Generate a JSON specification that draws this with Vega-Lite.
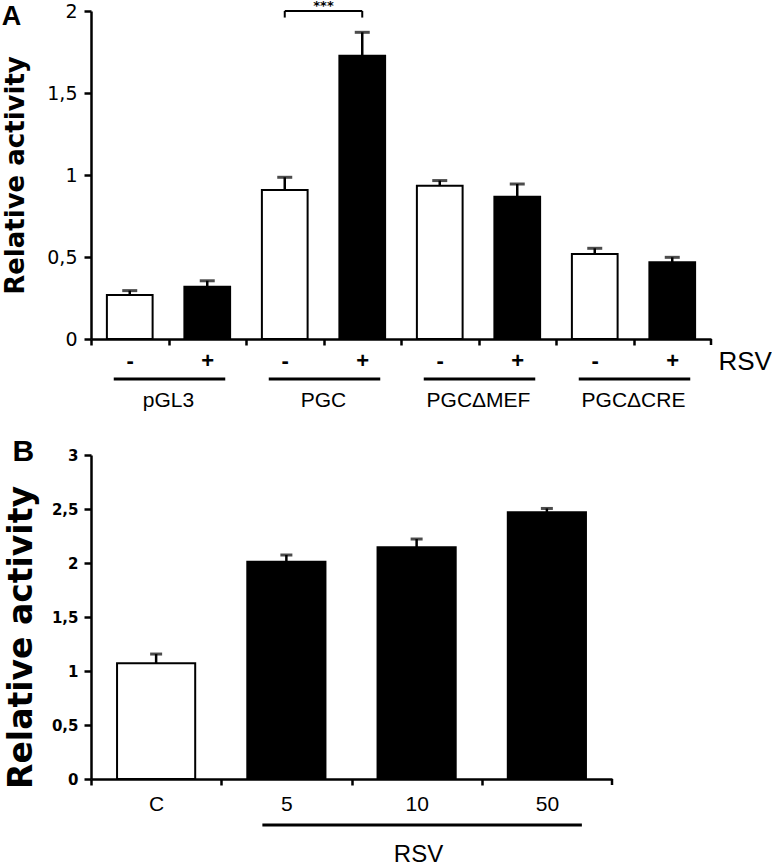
{
  "$schema": "https://vega.github.io/schema/vega-lite/v6.json",
  "background": "white",
  "padding": {"left": 1, "top": 0, "right": 0, "bottom": 12},
  "spacing": 116,
  "bounds": "flush",
  "config": {
    "view": {"stroke": null},
    "axis": {"domainColor": "black", "tickColor": "black", "labelColor": "black", "titleColor": "black", "grid": false, "domainWidth": 2.5, "tickWidth": 2.5, "labelOverlap": false, "labelFlush": false}
  },
  "datasets": {
    "a": [
      {"bar": "pGL3 -", "group": "pGL3", "rsv": "-", "value": 0.268, "upper": 0.295},
      {"bar": "pGL3 +", "group": "pGL3", "rsv": "+", "value": 0.319, "upper": 0.355},
      {"bar": "PGC -", "group": "PGC", "rsv": "-", "value": 0.909, "upper": 0.986},
      {"bar": "PGC +", "group": "PGC", "rsv": "+", "value": 1.727, "upper": 1.87},
      {"bar": "PGCΔMEF -", "group": "PGCΔMEF", "rsv": "-", "value": 0.935, "upper": 0.966},
      {"bar": "PGCΔMEF +", "group": "PGCΔMEF", "rsv": "+", "value": 0.868, "upper": 0.945},
      {"bar": "PGCΔCRE -", "group": "PGCΔCRE", "rsv": "-", "value": 0.518, "upper": 0.553},
      {"bar": "PGCΔCRE +", "group": "PGCΔCRE", "rsv": "+", "value": 0.468, "upper": 0.498}
    ],
    "a_groups": [
      {"group": "pGL3", "first": "pGL3 -", "last": "pGL3 +"},
      {"group": "PGC", "first": "PGC -", "last": "PGC +"},
      {"group": "PGCΔMEF", "first": "PGCΔMEF -", "last": "PGCΔMEF +"},
      {"group": "PGCΔCRE", "first": "PGCΔCRE -", "last": "PGCΔCRE +"}
    ],
    "a_end": [
      {"bar": "PGCΔCRE +"}
    ],
    "a_sig": [
      {"from": "PGC -", "to": "PGC +", "level": 2.0, "low": 1.96, "label": "***"}
    ],
    "b": [
      {"cond": "C", "treated": "no", "value": 1.071, "upper": 1.157},
      {"cond": "5", "treated": "yes", "value": 2.012, "upper": 2.074},
      {"cond": "10", "treated": "yes", "value": 2.145, "upper": 2.222},
      {"cond": "50", "treated": "yes", "value": 2.469, "upper": 2.505}
    ],
    "b_end": [
      {"cond": "50"}
    ],
    "b_groups": [
      {"first": "5", "last": "50"}
    ]
  },
  "vconcat": [
    {
      "width": 620,
      "height": 328,
      "title": {"text": "A", "anchor": "start", "frame": "bounds", "font": "Liberation Sans", "fontSize": 27, "fontWeight": "bold", "color": "black", "offset": -31, "dx": -1},
      "layer": [
        {
          "data": {"name": "a"},
          "mark": {"type": "bar", "width": {"band": 0.59}, "stroke": "black", "strokeWidth": 2},
          "encoding": {
            "x": {
              "field": "bar", "type": "nominal", "sort": null,
              "scale": {"domain": ["pGL3 -", "pGL3 +", "PGC -", "PGC +", "PGCΔMEF -", "PGCΔMEF +", "PGCΔCRE -", "PGCΔCRE +"], "paddingInner": 0, "paddingOuter": 0},
              "axis": {
                "title": "RSV", "labelAngle": 0,
                "labelExpr": "indexof(datum.value, '+') >= 0 ? '+' : '-'",
                "labelFont": "Liberation Sans", "labelFontSize": 22, "labelFontWeight": "bold", "labelBaseline": "middle", "labelPadding": 15,
                "tickSize": 6, "tickOffset": -38.75, "labelOffset": 38.75,
                "titleX": 627, "titleY": 22, "titleAlign": "left", "titleBaseline": "middle",
                "titleFont": "Liberation Sans", "titleFontSize": 26, "titleFontWeight": "normal"
              }
            },
            "y": {
              "field": "value", "type": "quantitative", "scale": {"domain": [0, 2]},
              "axis": {
                "values": [0, 0.5, 1, 1.5, 2],
                "labelExpr": "replace(format(datum.value, '~g'), '.', ',')",
                "title": "Relative activity", "titleFont": "DejaVu Sans", "titleFontSize": 26, "titleFontWeight": "bold", "titlePadding": 18,
                "labelFont": "DejaVu Sans", "labelFontSize": 19, "labelFontWeight": "normal", "tickSize": 7, "labelPadding": 7
              }
            },
            "fill": {"field": "rsv", "type": "nominal", "scale": {"domain": ["-", "+"], "range": ["white", "black"]}, "legend": null}
          }
        },
        {
          "data": {"name": "a"},
          "mark": {"type": "rule", "strokeWidth": 2.5, "color": "black"},
          "encoding": {
            "x": {"field": "bar", "type": "nominal"},
            "y": {"field": "value", "type": "quantitative"},
            "y2": {"field": "upper"}
          }
        },
        {
          "data": {"name": "a"},
          "mark": {"type": "tick", "size": 15, "thickness": 3, "color": "black", "orient": "horizontal"},
          "encoding": {
            "x": {"field": "bar", "type": "nominal"},
            "y": {"field": "upper", "type": "quantitative"}
          }
        },
        {
          "data": {"name": "a_end"},
          "mark": {"type": "rule", "strokeWidth": 2.5, "color": "black", "xOffset": 38.75, "y2Offset": 6},
          "encoding": {
            "x": {"field": "bar", "type": "nominal"},
            "y": {"datum": 0, "type": "quantitative"},
            "y2": {"datum": 0}
          }
        },
        {
          "data": {"name": "a_groups"},
          "mark": {"type": "rule", "strokeWidth": 3, "color": "black", "yOffset": 40, "xOffset": -16, "x2Offset": 18},
          "encoding": {
            "x": {"field": "first", "type": "nominal"},
            "x2": {"field": "last"},
            "y": {"datum": 0, "type": "quantitative"}
          }
        },
        {
          "data": {"name": "a_groups"},
          "mark": {"type": "text", "font": "Liberation Sans", "fontSize": 21, "color": "black", "baseline": "middle", "align": "center", "dx": 38.75, "yOffset": 62},
          "encoding": {
            "x": {"field": "first", "type": "nominal"},
            "y": {"datum": 0, "type": "quantitative"},
            "text": {"field": "group"}
          }
        },
        {
          "data": {"name": "a_sig"},
          "mark": {"type": "rule", "strokeWidth": 2, "color": "black"},
          "encoding": {
            "x": {"field": "from", "type": "nominal"},
            "x2": {"field": "to"},
            "y": {"field": "level", "type": "quantitative"}
          }
        },
        {
          "data": {"name": "a_sig"},
          "mark": {"type": "rule", "strokeWidth": 2, "color": "black"},
          "encoding": {
            "x": {"field": "from", "type": "nominal"},
            "y": {"field": "level", "type": "quantitative"},
            "y2": {"field": "low"}
          }
        },
        {
          "data": {"name": "a_sig"},
          "mark": {"type": "rule", "strokeWidth": 2, "color": "black"},
          "encoding": {
            "x": {"field": "to", "type": "nominal"},
            "y": {"field": "level", "type": "quantitative"},
            "y2": {"field": "low"}
          }
        },
        {
          "data": {"name": "a_sig"},
          "mark": {"type": "text", "font": "DejaVu Sans", "fontSize": 13, "fontWeight": "bold", "color": "black", "baseline": "bottom", "align": "center", "dx": 38.75, "dy": 2},
          "encoding": {
            "x": {"field": "from", "type": "nominal"},
            "y": {"field": "level", "type": "quantitative"},
            "text": {"field": "label"}
          }
        }
      ]
    },
    {
      "width": 521,
      "height": 324,
      "title": {"text": "B", "anchor": "start", "frame": "bounds", "font": "Liberation Sans", "fontSize": 30, "fontWeight": "bold", "color": "black", "offset": -19, "dx": 7},
      "layer": [
        {
          "data": {"name": "b"},
          "mark": {"type": "bar", "width": {"band": 0.6}, "stroke": "black", "strokeWidth": 2},
          "encoding": {
            "x": {
              "field": "cond", "type": "nominal", "sort": null,
              "scale": {"domain": ["C", "5", "10", "50"], "paddingInner": 0, "paddingOuter": 0},
              "axis": {
                "title": "RSV", "labelAngle": 0,
                "labelFont": "Liberation Sans", "labelFontSize": 21, "labelBaseline": "middle", "labelPadding": 19,
                "tickSize": 6, "tickOffset": -65.125, "labelOffset": 65.125,
                "titleX": 327, "titleY": 75, "titleAlign": "center", "titleBaseline": "middle",
                "titleFont": "Liberation Sans", "titleFontSize": 24, "titleFontWeight": "normal"
              }
            },
            "y": {
              "field": "value", "type": "quantitative", "scale": {"domain": [0, 3]},
              "axis": {
                "values": [0, 0.5, 1, 1.5, 2, 2.5, 3],
                "labelExpr": "replace(format(datum.value, '~g'), '.', ',')",
                "title": "Relative activity", "titleFont": "DejaVu Sans", "titleFontSize": 33, "titleFontWeight": "bold", "titlePadding": 13, "titleY": 182,
                "labelFont": "DejaVu Sans", "labelFontSize": 15, "labelFontWeight": "bold", "tickSize": 7, "labelPadding": 6
              }
            },
            "fill": {"field": "treated", "type": "nominal", "scale": {"domain": ["no", "yes"], "range": ["white", "black"]}, "legend": null}
          }
        },
        {
          "data": {"name": "b"},
          "mark": {"type": "rule", "strokeWidth": 2.5, "color": "black"},
          "encoding": {
            "x": {"field": "cond", "type": "nominal"},
            "y": {"field": "value", "type": "quantitative"},
            "y2": {"field": "upper"}
          }
        },
        {
          "data": {"name": "b"},
          "mark": {"type": "tick", "size": 12, "thickness": 3, "color": "black", "orient": "horizontal"},
          "encoding": {
            "x": {"field": "cond", "type": "nominal"},
            "y": {"field": "upper", "type": "quantitative"}
          }
        },
        {
          "data": {"name": "b_end"},
          "mark": {"type": "rule", "strokeWidth": 2.5, "color": "black", "xOffset": 65.125, "y2Offset": 6},
          "encoding": {
            "x": {"field": "cond", "type": "nominal"},
            "y": {"datum": 0, "type": "quantitative"},
            "y2": {"datum": 0}
          }
        },
        {
          "data": {"name": "b_groups"},
          "mark": {"type": "rule", "strokeWidth": 3, "color": "black", "yOffset": 46, "xOffset": -24, "x2Offset": 35},
          "encoding": {
            "x": {"field": "first", "type": "nominal"},
            "x2": {"field": "last"},
            "y": {"datum": 0, "type": "quantitative"}
          }
        }
      ]
    }
  ]
}
